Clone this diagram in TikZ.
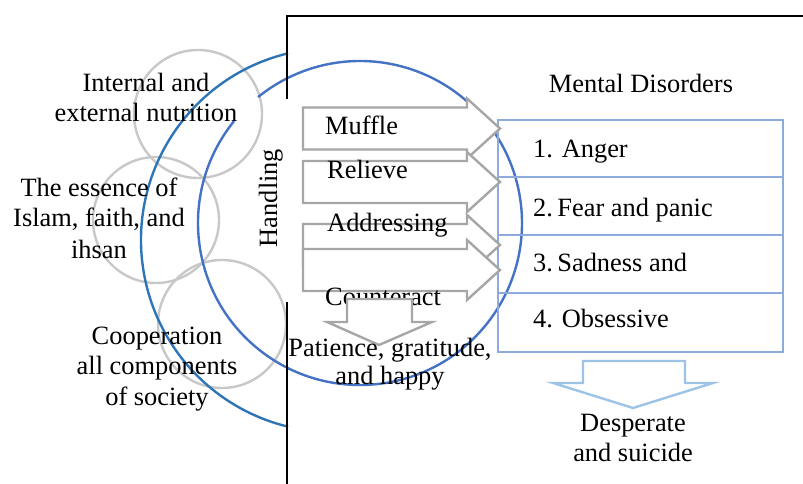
\documentclass[tikz,border=0pt]{standalone}
\usepackage{fontspec}
\setmainfont{Liberation Serif}
\definecolor{circgray}{RGB}{200,200,200}
\definecolor{arrgray}{RGB}{166,166,166}
\definecolor{outerblue}{RGB}{46,117,182}
\definecolor{innerblue}{RGB}{68,114,196}
\definecolor{boxblue}{RGB}{143,170,220}
\definecolor{lightarrow}{RGB}{157,195,230}
\newcommand\myRightArrow[1]{%
  \draw[blockarrow] (303,#1+21) -- (467,#1+21) -- (467,#1+30) -- (500,#1)
    -- (467,#1-30) -- (467,#1-21) -- (303,#1-21) -- cycle;}
\begin{document}
\begin{tikzpicture}[x=1pt,y=1pt,
  txt/.style={font=\fontsize{26.4}{30.5}\selectfont, inner sep=0pt, text=black, anchor=base},
  ltxt/.style={txt, anchor=base west},
  graycirc/.style={draw=circgray, line width=2.4pt},
  blockarrow/.style={draw=arrgray, fill=white, line width=2.4pt, line join=miter},
  bluearrow/.style={draw=lightarrow, fill=white, line width=2.4pt, line join=miter},
  framebox/.style={draw=boxblue, line width=2pt},
  frameline/.style={draw=black, line width=2.6pt}]
\useasboundingbox (0,0) rectangle (803,484);
% grey circles
\draw[graycirc] (198,370) circle[radius=64];
\draw[graycirc] (156,264) circle[radius=63];
\draw[graycirc] (222,160) circle[radius=64];
% blue circles
\draw[draw=innerblue, line width=2.4pt] (360,261) ++(141:162) arc[start angle=141, end angle=489, radius=162];
\draw[draw=outerblue, line width=2.4pt] (333,244) ++(103.55:192) arc[start angle=103.55, end angle=256.45, radius=192];
% black frame lines
\draw[frameline] (287,385) -- (287,468) -- (803,468);
\draw[frameline] (287,182) -- (287,0);
% boxes
\draw[framebox] (498,307) rectangle (783,364);
\draw[framebox] (498,249) rectangle (783,307);
\draw[framebox] (498,191) rectangle (783,249);
\draw[framebox] (498,132) rectangle (783,191);
% block arrows
\myRightArrow{355.5}
\myRightArrow{302}
\myRightArrow{239}
\myRightArrow{214}
% arrow texts
\node[ltxt] (muffle) at (325,349) {Muffle};
\node[ltxt] (relieve) at (327,305) {Relieve};
\node[ltxt] (addr) at (327,252) {Addressing};
\node[ltxt] (counter) at (325,178) {Counteract};
% grey down arrow
\draw[blockarrow] (347,185) -- (412,185) -- (412,162) -- (432,162) -- (379,139)
  -- (327,162) -- (347,162) -- cycle;
\node[txt] (pat1) at (390,357-230) {Patience, gratitude,};
\node[txt] (pat2) at (390,99) {and happy};
% blue down arrow
\draw[bluearrow] (583,123) -- (685,123) -- (685,101) -- (713,101) -- (633,76)
  -- (553,101) -- (583,101) -- cycle;
\node[txt] (desp1) at (633,52) {Desperate};
\node[txt] (desp2) at (633,22) {and suicide};
% left texts
\node[txt] (int1) at (146,392) {Internal and};
\node[txt] (int2) at (146,362) {external nutrition};
\node[txt] (ess1) at (99,287) {The essence of};
\node[txt] (ess2) at (99,257) {Islam, faith, and};
\node[txt] (ess3) at (99,225) {ihsan};
\node[txt] (coop1) at (157,139) {Cooperation};
\node[txt] (coop2) at (157,109) {all components};
\node[txt] (coop3) at (157,78) {of society};
\node[txt, rotate=90] (handling) at (277,286) {Handling};
% right texts
\node[txt] (md) at (641,391) {Mental Disorders};
\node[ltxt] (d1) at (533,326) {1. Anger};
\node[ltxt] (d2) at (533,267) {2.\,Fear and panic};
\node[ltxt] (d3) at (533,212) {3.\,Sadness and};
\node[ltxt] (d4) at (533,156) {4. Obsessive};
\end{tikzpicture}
\end{document}
